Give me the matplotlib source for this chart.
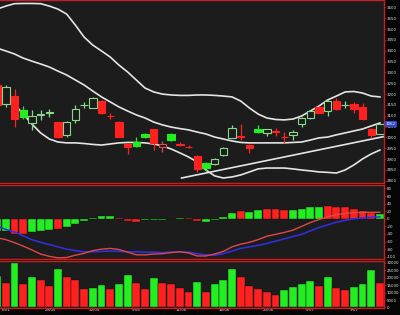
import numpy as np
import matplotlib.pyplot as plt
from matplotlib.patches import Rectangle

plt.rcParams['axes.unicode_minus'] = False

# bar index (first bar is partly cut off on the left)
idx = np.arange(-1, 44)

# OHLC
opens = [3242, 3154, 3191, 3127, 3068, 3102, 3113, 3071, 3012, 3081, 3148, 3136, 3170, 3101, 3073,
         2970, 2981, 3016, 3038, 2955, 3016, 2969, 2958, 2915, 2881, 2878, 2919, 2996, 3007, 2965,
         3038, 3019, 3030, 3003, 3012, 3062, 3088, 3139, 3123, 3170, 3148, 3153, 3139, 3041, 3016]
highs = [3250, 3240, 3224, 3145, 3127, 3127, 3131, 3073, 3075, 3150, 3165, 3188, 3172, 3114, 3075,
         2976, 3004, 3020, 3040, 2985, 3020, 2978, 2966, 2918, 2885, 2903, 2956, 3058, 3062, 2968,
         3058, 3040, 3045, 3027, 3035, 3095, 3127, 3145, 3172, 3181, 3170, 3165, 3160, 3043, 3068]
lows = [3140, 3141, 3050, 3085, 3035, 3081, 3094, 2998, 3002, 3067, 3136, 3134, 3108, 3084, 3002,
        2924, 2958, 2998, 2942, 2935, 2985, 2960, 2950, 2842, 2845, 2875, 2914, 2996, 2988, 2930,
        3021, 3007, 3007, 2976, 2990, 3050, 3085, 3112, 3099, 3128, 3135, 3113, 3082, 2996, 3014]
closes = [3150, 3233, 3084, 3096, 3099, 3106, 3116, 3004, 3073, 3131, 3152, 3182, 3111, 3097, 3004,
          2958, 2961, 3001, 2973, 2970, 2988, 2966, 2955, 2855, 2860, 2900, 2950, 3042, 3000, 2950,
          3027, 3038, 3027, 3000, 3027, 3091, 3123, 3114, 3170, 3130, 3152, 3130, 3084, 3012, 3062]
prev_close = 3260

# Bollinger bands
bb_upper = [3592, 3606, 3617, 3618, 3618, 3617, 3606, 3592, 3569, 3518, 3463, 3426, 3399, 3371, 3334,
            3302, 3265, 3228, 3210, 3200, 3196, 3194, 3194, 3196, 3196, 3194, 3191, 3187, 3168, 3136,
            3108, 3090, 3083, 3081, 3085, 3099, 3122, 3145, 3173, 3191, 3210, 3212, 3205, 3191, 3187]
bb_mid = [3412, 3399, 3385, 3366, 3352, 3339, 3325, 3306, 3288, 3265, 3242, 3214, 3187, 3164, 3141,
          3122, 3104, 3090, 3071, 3058, 3048, 3041, 3035, 3025, 3016, 3002, 2993, 2984, 2977, 2975,
          2975, 2975, 2975, 2975, 2977, 2979, 2988, 2998, 3002, 3012, 3021, 3030, 3039, 3053, 3067]
bb_lower = [3219, 3187, 3154, 3108, 3062, 3021, 2993, 2979, 2975, 2975, 2972, 2968, 2965, 2970, 2975,
            2977, 2977, 2975, 2970, 2961, 2947, 2929, 2910, 2887, 2850, 2823, 2813, 2818, 2827, 2841,
            2855, 2859, 2859, 2859, 2855, 2850, 2846, 2841, 2839, 2836, 2850, 2873, 2901, 2924, 2942]

# hand drawn trend line
trend_x = [20.2, 43.8]
trend_y = [2813, 3007]

# MACD panel
macd = [-50, -55, -63, -72, -82, -93, -99, -103, -102, -96, -91, -84, -80, -78, -81,
        -88, -95, -95, -93, -92, -89, -87, -90, -98, -98, -93, -86, -74, -67, -62,
        -55, -46, -41, -36, -30, -20, -10, -2, 5, 11, 14, 16, 17, 17, 17]
signal = [-20, -28, -35, -45, -55, -62, -68, -74, -80, -84, -87, -87, -86, -85, -86,
          -87, -87, -88, -88, -89, -88, -87, -88, -92, -95, -96, -92, -85, -78, -74,
          -70, -65, -59, -53, -47, -41, -32, -23, -16, -9, -4, 0, 2, 4, 5]
hist = [-31, -31, -39, -39, -35, -33, -29, -26, -22, -13, -6, 3, 6, 6, 1,
        -5, -8, -4, -3, -2, -1, 1, 1, -5, -8, -3, 5, 16, 20, 18,
        23, 25, 25, 23, 23, 25, 31, 31, 33, 32, 30, 25, 20, 16, 12]
hist_col = "ggrrgggrggggggrrrgggggrrggggrggrrrggggrrrrrr"

# volume
volume = [20900, 16500, 29800, 15800, 20500, 18200, 14700, 25800, 20700, 18700, 12500, 13100, 15100,
          12500, 15800, 21800, 16500, 12500, 19600, 16500, 15800, 12900, 10200, 17300, 10700, 15800,
          18700, 26200, 20200, 14200, 12500, 10200, 8400, 12000, 14000, 15500, 18000, 14700, 20200,
          13300, 12000, 14000, 16000, 25300, 16700]
vol_col = "grgrgrrgrrrggrggrrgrrrrgrgggrrrrrggggrgrrgggr"

date_pos = [-0.5, 4.5, 9.5, 14.5, 19.5, 24.5, 29.5, 34.5, 39.5]
date_lbl = ["6/01", "29/05", "30/05", "5/06", "11/06", "18/06", "23/06", "5/07", "9/07"]

GREEN = '#22ee22'
GREEN_HOLLOW = '#8ad88a'
RED = '#ff2020'
RED_HOLLOW = '#d05050'
BG = '#1c1c1c'
EDGE = '#c42020'
TXT = '#e6e6e6'

fig = plt.figure(figsize=(4, 3.15), dpi=100, facecolor='#050505')
W = 384 / 400
ax_p = fig.add_axes([0, 1 - 183 / 315, W, 183 / 315])
ax_m = fig.add_axes([0, 1 - 259 / 315, W, 74 / 315])
ax_v = fig.add_axes([0, 1 - 308 / 315, W, 47 / 315])

for ax in (ax_p, ax_m, ax_v):
    ax.set_facecolor(BG)
    ax.set_xlim(-0.667, 43.47)
    ax.spines['left'].set_visible(False)
    for s in ('top', 'bottom', 'right'):
        ax.spines[s].set_color(EDGE)
        ax.spines[s].set_linewidth(1.0)
    ax.yaxis.tick_right()
    ax.tick_params(axis='y', colors=TXT, labelsize=2.9, length=1.2, width=0.5, pad=1)
    ax.tick_params(axis='y', color=EDGE)
    ax.set_xticks([])

# price panel
ax_p.set_ylim(2790, 3634)
ax_p.set_yticks(np.arange(2800, 3601, 50))
for band in (bb_upper, bb_mid, bb_lower):
    ax_p.plot(idx, band, color='#e4e4e4', lw=1.2, zorder=1)
ax_p.plot(trend_x, trend_y, color='#e4e4e4', lw=1.2, zorder=1)

w = 0.85
pc = prev_close
for i, o, h, l, c in zip(idx, opens, highs, lows, closes):
    up_day = c >= pc
    hollow = c > o
    if up_day:
        col = GREEN_HOLLOW if hollow else GREEN
    else:
        col = RED_HOLLOW if hollow else RED
    ax_p.vlines(i, l, h, color=col, lw=0.9, zorder=2)
    bottom = min(o, c)
    height = max(abs(c - o), 2)
    ax_p.add_patch(Rectangle((i - w / 2, bottom), w, height,
                             facecolor=BG if hollow else col, edgecolor=col,
                             lw=0.8, zorder=3))
    pc = c

ax_p.annotate(f"{closes[-1]:.0f}", xy=(1.0, closes[-1]), xycoords=('axes fraction', 'data'),
              xytext=(1.5, 0), textcoords='offset points', va='center', ha='left',
              fontsize=2.9, color='white',
              bbox=dict(boxstyle='square,pad=0.15', facecolor='#2a48d8', edgecolor='none'))

# MACD panel
ax_m.set_ylim(-106, 89)
ax_m.set_yticks(np.arange(-100, 81, 20))
hc = [GREEN if k == 'g' else RED for k in hist_col]
ax_m.bar(idx, hist, width=0.9, color=hc, edgecolor='#101010', lw=0.3, zorder=2)
ax_m.plot(idx, signal, color='#3030e8', lw=1.1, zorder=3)
ax_m.plot(idx, macd, color='#e04848', lw=1.0, zorder=3)

# volume panel
ax_v.set_ylim(-350, 31300)
ax_v.set_yticks(np.arange(0, 30001, 5000))
vc = [GREEN if k == 'g' else RED for k in vol_col]
ax_v.bar(idx, volume, width=0.9, color=vc, edgecolor='#101010', lw=0.3, zorder=2)
ax_v.set_xticks(date_pos)
ax_v.set_xticklabels(date_lbl)
ax_v.tick_params(axis='x', colors=TXT, labelsize=2.9, length=1.5, width=0.5, pad=0.3,
                 direction='in')
ax_v.tick_params(axis='x', color=EDGE)
for t in ax_v.get_xticklabels():
    t.set_ha('left')

fig.savefig('out.png', dpi=100, facecolor=fig.get_facecolor())
